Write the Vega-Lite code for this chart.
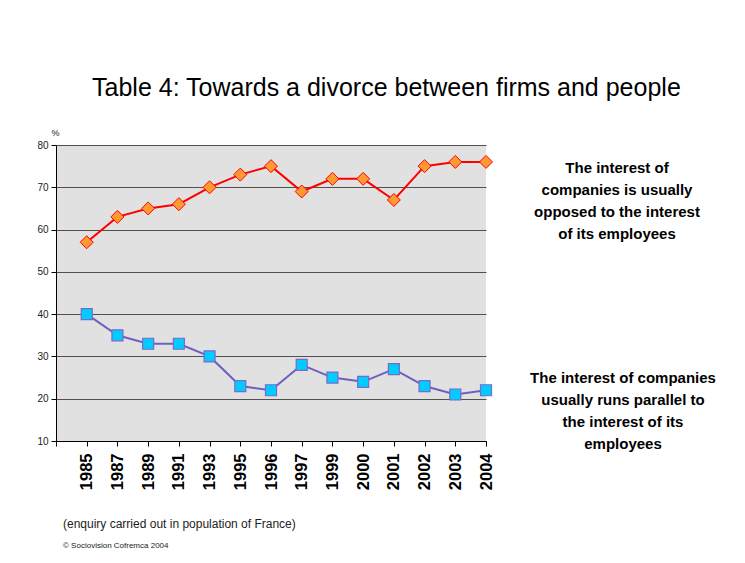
{
  "$schema": "https://vega.github.io/schema/vega-lite/v6.json",
  "padding": {"left": 36, "top": 76, "right": 5, "bottom": 5},
  "background": "#FFFFFF",
  "title": {
    "text": "Table 4: Towards a divorce between firms and people",
    "font": "Liberation Sans",
    "fontSize": 25,
    "fontWeight": "normal",
    "color": "#000000",
    "anchor": "middle",
    "dx": 10,
    "offset": 27
  },
  "datasets": {
    "main": [
      {"year": "1985", "series": "opposed", "value": 57},
      {"year": "1987", "series": "opposed", "value": 63},
      {"year": "1989", "series": "opposed", "value": 65},
      {"year": "1991", "series": "opposed", "value": 66},
      {"year": "1993", "series": "opposed", "value": 70},
      {"year": "1995", "series": "opposed", "value": 73},
      {"year": "1996", "series": "opposed", "value": 75},
      {"year": "1997", "series": "opposed", "value": 69},
      {"year": "1999", "series": "opposed", "value": 72},
      {"year": "2000", "series": "opposed", "value": 72},
      {"year": "2001", "series": "opposed", "value": 67},
      {"year": "2002", "series": "opposed", "value": 75},
      {"year": "2003", "series": "opposed", "value": 76},
      {"year": "2004", "series": "opposed", "value": 76},
      {"year": "1985", "series": "parallel", "value": 40},
      {"year": "1987", "series": "parallel", "value": 35},
      {"year": "1989", "series": "parallel", "value": 33},
      {"year": "1991", "series": "parallel", "value": 33},
      {"year": "1993", "series": "parallel", "value": 30},
      {"year": "1995", "series": "parallel", "value": 23},
      {"year": "1996", "series": "parallel", "value": 22},
      {"year": "1997", "series": "parallel", "value": 28},
      {"year": "1999", "series": "parallel", "value": 25},
      {"year": "2000", "series": "parallel", "value": 24},
      {"year": "2001", "series": "parallel", "value": 27},
      {"year": "2002", "series": "parallel", "value": 23},
      {"year": "2003", "series": "parallel", "value": 21},
      {"year": "2004", "series": "parallel", "value": 22}
    ]
  },
  "vconcat": [
    {
      "width": 430,
      "height": 296,
      "title": {
        "text": "(enquiry carried out in population of France)",
        "subtitle": "© Sociovision Cofremca 2004",
        "orient": "bottom",
        "anchor": "start",
        "frame": "group",
        "dx": 7,
        "offset": 29,
        "font": "Liberation Sans Narrow, Liberation Sans",
        "fontSize": 12,
        "fontWeight": "normal",
        "color": "#222222",
        "subtitleFont": "Liberation Sans",
        "subtitleFontSize": 8,
        "subtitleColor": "#222222",
        "subtitlePadding": 11
      },
      "data": {"name": "main"},
      "encoding": {
        "x": {
          "field": "year",
          "type": "ordinal",
          "scale": {
            "type": "point",
            "domain": ["", "1985", "1987", "1989", "1991", "1993", "1995", "1996", "1997", "1999", "2000", "2001", "2002", "2003", "2004"],
            "padding": 0
          },
          "axis": {
            "title": null,
            "labelAngle": -90,
            "labelFont": "Liberation Sans",
            "labelFontSize": 16.5,
            "labelFontWeight": "bold",
            "labelColor": "#000000",
            "labelPadding": 7,
            "tickColor": "#000000",
            "tickSize": 5,
            "domainColor": "#000000",
            "grid": false
          }
        },
        "y": {
          "field": "value",
          "type": "quantitative",
          "scale": {"domain": [10, 80], "nice": false, "zero": false},
          "axis": {
            "values": [10, 20, 30, 40, 50, 60, 70, 80],
            "title": "%",
            "titleAngle": 0,
            "titleAlign": "center",
            "titleBaseline": "bottom",
            "titleX": -1,
            "titleY": -8,
            "titleFont": "Liberation Sans",
            "titleFontSize": 9,
            "titleFontWeight": "normal",
            "titleColor": "#222222",
            "labelFont": "Liberation Sans",
            "labelFontSize": 10,
            "labelColor": "#222222",
            "labelPadding": 3,
            "tickColor": "#000000",
            "tickSize": 5,
            "domainColor": "#000000",
            "grid": true,
            "gridColor": "#505050",
            "gridWidth": 1.2
          }
        }
      },
      "layer": [
        {
          "transform": [{"filter": "datum.series === 'opposed'"}],
          "mark": {
            "type": "line",
            "color": "#FF0000",
            "strokeWidth": 2,
            "point": {"shape": "diamond", "filled": true, "fill": "#FF9933", "stroke": "#FF0000", "strokeWidth": 1, "size": 169, "opacity": 1}
          }
        },
        {
          "transform": [{"filter": "datum.series === 'parallel'"}],
          "mark": {
            "type": "line",
            "color": "#6F5FC0",
            "strokeWidth": 2,
            "point": {"shape": "square", "filled": true, "fill": "#00CCFF", "stroke": "#7A6AC8", "strokeWidth": 1.2, "size": 121, "opacity": 1}
          }
        },
        {
          "transform": [{"filter": "datum.series === 'opposed' && datum.year === '2004'"}],
          "mark": {
            "type": "text",
            "text": ["The interest of", "companies is usually", "opposed to the interest", "of its employees"],
            "font": "Liberation Sans",
            "fontSize": 15,
            "fontWeight": "bold",
            "color": "#000000",
            "align": "center",
            "baseline": "top",
            "lineHeight": 22,
            "dx": 131,
            "dy": -1
          }
        },
        {
          "transform": [{"filter": "datum.series === 'parallel' && datum.year === '2004'"}],
          "mark": {
            "type": "text",
            "text": ["The interest of companies", "usually runs parallel to", "the interest of its", "employees"],
            "font": "Liberation Sans",
            "fontSize": 15,
            "fontWeight": "bold",
            "color": "#000000",
            "align": "center",
            "baseline": "top",
            "lineHeight": 22,
            "dx": 137,
            "dy": -19
          }
        }
      ]
    }
  ],
  "config": {
    "view": {"fill": "#E1E1E1", "stroke": null},
    "axis": {"labelFont": "Liberation Sans"}
  }
}
